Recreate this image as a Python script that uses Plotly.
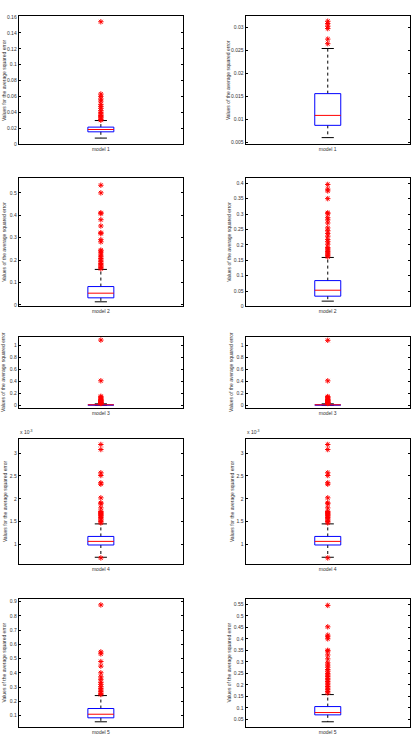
import plotly.graph_objects as go

# ---------------- data ----------------
models = ["model 1", "model 2", "model 3", "model 4", "model 5"]

# left column statistics
q1_left = [0.0154, 0.0310, 0.004, 0.986e-3, 0.0837]
median_left = [0.0183, 0.0518, 0.008, 1.065e-3, 0.109]
q3_left = [0.0213, 0.0814, 0.014, 1.174e-3, 0.149]
whislo_left = [0.0075, 0.0133, 0.001, 0.717e-3, 0.0558]
whishi_left = [0.0296, 0.158, 0.024, 1.449e-3, 0.240]

# right column statistics
q1_right = [0.00868, 0.0333, 0.004, 0.986e-3, 0.070]
median_right = [0.01085, 0.0527, 0.008, 1.065e-3, 0.080]
q3_right = [0.0156, 0.0839, 0.014, 1.174e-3, 0.106]
whislo_right = [0.0060, 0.0172, 0.001, 0.717e-3, 0.040]
whishi_right = [0.02545, 0.159, 0.024, 1.449e-3, 0.158]

out_left_m1 = [0.154, 0.063, 0.060, 0.0567, 0.054, 0.050, 0.0475, 0.045, 0.042, 0.040,
               0.038, 0.036, 0.0346, 0.033, 0.031, 0.030]
out_left_m2 = [0.534, 0.500, 0.411, 0.407, 0.380, 0.352, 0.322, 0.318, 0.291, 0.281,
               0.244, 0.240, 0.232, 0.222, 0.214, 0.207, 0.200, 0.192, 0.185, 0.179,
               0.173, 0.167, 0.161]
out_left_m3 = [1.094, 0.411, 0.150, 0.135, 0.120, 0.100, 0.090, 0.080, 0.070, 0.060,
               0.050, 0.045, 0.040, 0.035, 0.030]
out_left_m4 = [3.19e-3, 3.08e-3, 2.57e-3, 2.51e-3, 2.35e-3, 2.32e-3, 2.02e-3, 1.91e-3,
               1.89e-3, 1.80e-3, 1.72e-3, 1.70e-3, 1.68e-3, 1.66e-3, 1.64e-3, 1.62e-3,
               1.59e-3, 1.56e-3, 1.53e-3, 1.50e-3, 1.47e-3, 0.703e-3]
out_left_m5 = [0.877, 0.547, 0.533, 0.479, 0.447, 0.400, 0.372, 0.354, 0.333, 0.319,
               0.302, 0.291, 0.279, 0.267, 0.256, 0.247]

out_right_m1 = [0.0314, 0.0309, 0.0303, 0.0298, 0.0275, 0.0265]
out_right_m2 = [0.396, 0.381, 0.375, 0.350, 0.304, 0.301, 0.288, 0.281, 0.271, 0.255,
                0.246, 0.237, 0.228, 0.217, 0.210, 0.202, 0.191, 0.187, 0.183, 0.178,
                0.174, 0.170, 0.166, 0.161]
out_right_m3 = [1.090, 0.410, 0.145, 0.135, 0.120, 0.100, 0.090, 0.080, 0.070, 0.060,
                0.050, 0.045, 0.040, 0.035, 0.030]
out_right_m4 = [3.19e-3, 3.08e-3, 2.57e-3, 2.51e-3, 2.35e-3, 2.32e-3, 2.02e-3, 1.91e-3,
                1.89e-3, 1.80e-3, 1.72e-3, 1.70e-3, 1.68e-3, 1.66e-3, 1.64e-3, 1.62e-3,
                1.59e-3, 1.56e-3, 1.53e-3, 1.50e-3, 1.47e-3, 0.703e-3]
out_right_m5 = [0.545, 0.452, 0.416, 0.409, 0.400, 0.350, 0.347, 0.330, 0.313, 0.296,
                0.286, 0.277, 0.267, 0.260, 0.250, 0.243, 0.236, 0.229, 0.222, 0.215,
                0.208, 0.200, 0.193, 0.186, 0.179, 0.172, 0.165]

outliers_left = [out_left_m1, out_left_m2, out_left_m3, out_left_m4, out_left_m5]
outliers_right = [out_right_m1, out_right_m2, out_right_m3, out_right_m4, out_right_m5]

ylabel_left = ["Values for the average squared error", "Values of the average squared error",
               "Values of the average squared error", "Values for the average squared error",
               "Values of the average squared error"]
ylabel_right = ["Values of the average squared error", "Values of the average squared error",
                "Values of the average squared error", "Values for the average squared error",
                "Values of the average squared error"]

# tick values / labels
ticks_left = [
    [0, 0.02, 0.04, 0.06, 0.08, 0.1, 0.12, 0.14, 0.16],
    [0, 0.1, 0.2, 0.3, 0.4, 0.5],
    [0, 0.2, 0.4, 0.6, 0.8, 1],
    [1e-3, 1.5e-3, 2e-3, 2.5e-3, 3e-3],
    [0.1, 0.2, 0.3, 0.4, 0.5, 0.6, 0.7, 0.8, 0.9],
]
ticktext_left = [
    ["0", "0.02", "0.04", "0.06", "0.08", "0.1", "0.12", "0.14", "0.16"],
    ["0", "0.1", "0.2", "0.3", "0.4", "0.5"],
    ["0", "0.2", "0.4", "0.6", "0.8", "1"],
    ["1", "1.5", "2", "2.5", "3"],
    ["0.1", "0.2", "0.3", "0.4", "0.5", "0.6", "0.7", "0.8", "0.9"],
]
ticks_right = [
    [0.005, 0.01, 0.015, 0.02, 0.025, 0.03],
    [0, 0.05, 0.1, 0.15, 0.2, 0.25, 0.3, 0.35, 0.4],
    [0, 0.2, 0.4, 0.6, 0.8, 1],
    [1e-3, 1.5e-3, 2e-3, 2.5e-3, 3e-3],
    [0.05, 0.1, 0.15, 0.2, 0.25, 0.3, 0.35, 0.4, 0.45, 0.5, 0.55],
]
ticktext_right = [
    ["0.005", "0.01", "0.015", "0.02", "0.025", "0.03"],
    ["0", "0.05", "0.1", "0.15", "0.2", "0.25", "0.3", "0.35", "0.4"],
    ["0", "0.2", "0.4", "0.6", "0.8", "1"],
    ["1", "1.5", "2", "2.5", "3"],
    ["0.05", "0.1", "0.15", "0.2", "0.25", "0.3", "0.35", "0.4", "0.45", "0.5", "0.55"],
]
yrange_left = [[0, 0.161], [-0.0074, 0.565], [-0.05, 1.15], [0.565e-3, 3.31e-3], [0.0186, 0.919]]
yrange_right = [[0.0046, 0.0325], [0, 0.416], [-0.05, 1.15], [0.565e-3, 3.31e-3], [0.017, 0.573]]

# ---------------- layout geometry ----------------
W, H = 414, 742
col_x = [(18.7, 183.0), (245.5, 410.0)]
row_y = [(14.3, 143.0), (177.5, 306.5), (337.0, 409.0), (440.0, 566.0), (601.0, 730.0)]
ylab_x = [[4.0, 4.5, 3.5, 4.5, 4.5], [228.0, 229.5, 231.5, 231.5, 229.5]]

BOX_HW = 0.079
CAP_HW = 0.037
FONT = "Liberation Sans, Arial, sans-serif"
FS = 5

fig = go.Figure()
annotations = []
layout = {}

idx = 0
for r in range(5):
    for c in range(2):
        idx += 1
        xa = "x" if idx == 1 else f"x{idx}"
        ya = "y" if idx == 1 else f"y{idx}"
        if c == 0:
            q1, md, q3 = q1_left[r], median_left[r], q3_left[r]
            lo, hi = whislo_left[r], whishi_left[r]
            outs = outliers_left[r]
            tv, tt, yr = ticks_left[r], ticktext_left[r], yrange_left[r]
            ylab = ylabel_left[r]
        else:
            q1, md, q3 = q1_right[r], median_right[r], q3_right[r]
            lo, hi = whislo_right[r], whishi_right[r]
            outs = outliers_right[r]
            tv, tt, yr = ticks_right[r], ticktext_right[r], yrange_right[r]
            ylab = ylabel_right[r]
        xc = 1.0
        # whiskers (dashed)
        fig.add_trace(go.Scatter(x=[xc, xc, None, xc, xc], y=[q3, hi, None, q1, lo],
                                 mode="lines", xaxis=xa, yaxis=ya, hoverinfo="skip",
                                 line=dict(color="black", width=1, dash="3px,3px"),
                                 showlegend=False))
        # caps
        fig.add_trace(go.Scatter(x=[xc - CAP_HW, xc + CAP_HW, None, xc - CAP_HW, xc + CAP_HW],
                                 y=[hi, hi, None, lo, lo], mode="lines",
                                 xaxis=xa, yaxis=ya, hoverinfo="skip",
                                 line=dict(color="black", width=1), showlegend=False))
        # box
        fig.add_trace(go.Scatter(x=[xc - BOX_HW, xc + BOX_HW, xc + BOX_HW, xc - BOX_HW, xc - BOX_HW],
                                 y=[q1, q1, q3, q3, q1], mode="lines",
                                 xaxis=xa, yaxis=ya, hoverinfo="skip",
                                 line=dict(color="#0000ff", width=1), showlegend=False))
        # median
        fig.add_trace(go.Scatter(x=[xc - BOX_HW, xc + BOX_HW], y=[md, md], mode="lines",
                                 xaxis=xa, yaxis=ya, hoverinfo="skip",
                                 line=dict(color="#ff0000", width=1), showlegend=False))
        # outliers
        fig.add_trace(go.Scatter(x=[xc] * len(outs), y=outs, mode="markers",
                                 xaxis=xa, yaxis=ya,
                                 marker=dict(symbol="asterisk-open", size=4.5, color="#ff0000",
                                             line=dict(color="#ff0000", width=1)),
                                 showlegend=False))

        x0, x1 = col_x[c]
        y0, y1 = row_y[r]
        key = "xaxis" if idx == 1 else f"xaxis{idx}"
        ykey = "yaxis" if idx == 1 else f"yaxis{idx}"
        layout[key] = dict(domain=[x0 / W, x1 / W], range=[0.5, 1.5], anchor=ya,
                           tickvals=[1], ticktext=[models[r]], ticks="",
                           showline=True, mirror=True, linecolor="black", linewidth=1,
                           showgrid=False, zeroline=False, fixedrange=True,
                           tickfont=dict(size=FS, color="#333", family=FONT))
        layout[ykey] = dict(domain=[1 - y1 / H, 1 - y0 / H], range=yr, anchor=xa,
                            tickvals=tv, ticktext=tt, ticks="inside", ticklen=2.5,
                            tickcolor="black", showline=True, mirror="ticks",
                            linecolor="black", linewidth=1, showgrid=False, zeroline=False,
                            tickfont=dict(size=FS, color="#333", family=FONT))
        annotations.append(dict(text=ylab, textangle=-90, xref="paper", yref="paper",
                                x=ylab_x[c][r] / W, y=1 - (y0 + y1) / 2 / H,
                                xanchor="center", yanchor="middle", showarrow=False,
                                font=dict(size=FS, color="#333", family=FONT)))
        if r == 3:
            annotations.append(dict(text="x 10<sup>-3</sup>", xref="paper", yref="paper",
                                    x=(x0 - 0.5) / W, y=1 - (y0 - 2) / H,
                                    xanchor="left", yanchor="bottom", showarrow=False,
                                    font=dict(size=FS, color="#333", family=FONT)))

fig.update_layout(width=W, height=H, margin=dict(l=0, r=0, t=0, b=0),
                  paper_bgcolor="white", plot_bgcolor="white",
                  annotations=annotations, showlegend=False, **layout)

fig.write_html("out.html")
